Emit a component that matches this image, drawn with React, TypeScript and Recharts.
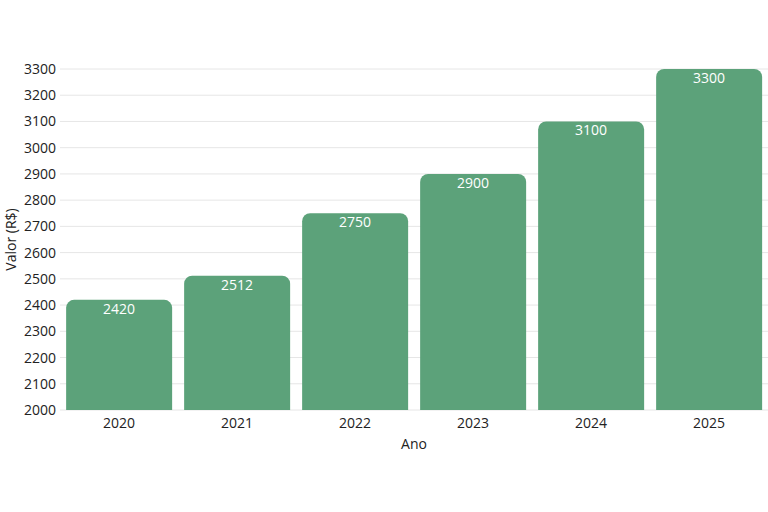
import * as React from 'react';
import { BarChart, Bar, XAxis, YAxis, CartesianGrid, LabelList } from 'recharts';

const years = ['2020', '2021', '2022', '2023', '2024', '2025'];
const valores = [2420, 2512, 2750, 2900, 3100, 3300];
const yTicks = [2000, 2100, 2200, 2300, 2400, 2500, 2600, 2700, 2800, 2900, 3000, 3100, 3200, 3300];

const data = years.map((ano, i) => ({ ano, valor: valores[i] }));

const font = '"Open Sans", sans-serif';

export default function App() {
  return (
    <div style={{ position: 'absolute', left: 0, top: 0, width: 768, height: 512, background: '#fff', fontFamily: font }}>
      <BarChart
        width={768}
        height={512}
        data={data}
        margin={{ top: 69, right: 0, bottom: 62, left: 0 }}
        barCategoryGap="5.2%"
      >
        <CartesianGrid vertical={false} stroke="#e6e6e6" />
        <XAxis
          dataKey="ano"
          height={40}
          axisLine={false}
          tickLine={false}
          tickSize={0}
          tickMargin={8}
          tick={{ fill: '#222', fontSize: 14, fontFamily: font }}
          label={{ value: 'Ano', position: 'insideBottom', offset: 1, fill: '#222', fontSize: 14, fontFamily: font }}
        />
        <YAxis
          width={60}
          domain={[2000, 3300]}
          ticks={yTicks}
          interval={0}
          allowDataOverflow
          axisLine={false}
          tickLine={false}
          tickSize={0}
          tickMargin={4}
          tick={{ fill: '#222', fontSize: 14, fontFamily: font }}
          label={{ value: 'Valor (R$)', angle: -90, position: 'insideLeft', offset: 0, dx: 11, fill: '#222', fontSize: 14, fontFamily: font, style: { textAnchor: 'middle' } }}
        />
        <Bar dataKey="valor" fill="#5ca27a" radius={[8, 8, 0, 0]} isAnimationActive={false}>
          <LabelList dataKey="valor" position="insideTop" offset={4} fill="#fff" fontSize={14} fontFamily={font} />
        </Bar>
      </BarChart>
    </div>
  );
}
